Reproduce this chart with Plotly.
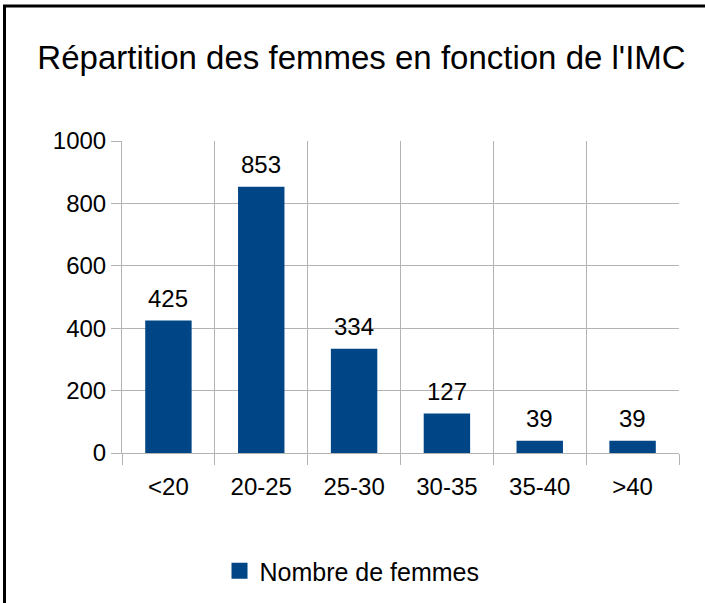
import plotly.graph_objects as go

categories = ["<20", "20-25", "25-30", "30-35", "35-40", ">40"]
values = [425, 853, 334, 127, 39, 39]
series_name = "Nombre de femmes"
title_text = "Répartition des femmes en fonction de l'IMC"
y_ticks = [0, 200, 400, 600, 800, 1000]

W, H = 705, 603
L, R, T, B = 122, 26, 141, 150
pw, ph = W - L - R, H - T - B

font = "Liberation Sans, Arial, sans-serif"
grid = "#b3b3b3"
bar_color = "#004586"

fig = go.Figure()
fig.add_trace(go.Bar(
    x=categories, y=values, name=series_name,
    marker=dict(color=bar_color, line=dict(width=0)),
    width=0.5, showlegend=False, hoverinfo="x+y",
))
# legend-only entry with a larger square swatch
fig.add_trace(go.Scatter(
    x=[None], y=[None], mode="markers", name=series_name,
    marker=dict(symbol="square", size=16, color=bar_color),
    showlegend=True, hoverinfo="skip",
))

# value labels above the bars
for c, v in zip(categories, values):
    fig.add_annotation(x=c, y=v, xref="x", yref="y", text=str(v), showarrow=False,
                       yanchor="middle", yshift=22,
                       font=dict(size=24, family=font, color="#000000"))


def px_to_paper_x(px):
    return (px - L) / pw


def px_to_paper_y(py):
    return (H - B - py) / ph


fig.update_layout(
    width=W, height=H,
    margin=dict(l=L, r=R, t=T, b=B, autoexpand=False),
    paper_bgcolor="white", plot_bgcolor="white",
    font=dict(family=font, color="#000000"),
    title=dict(text=title_text, x=361.5 / W, xanchor="center", y=1 - 57 / H, yanchor="middle",
               font=dict(size=33, family=font, color="#000000")),
    xaxis=dict(type="category", tickson="boundaries", showgrid=True, gridcolor=grid, gridwidth=1,
               ticks="outside", ticklen=11, tickcolor=grid, tickwidth=1,
               showline=True, linecolor=grid, linewidth=1, ticklabelstandoff=12,
               tickfont=dict(size=24, family=font, color="#000000"),
               range=[-0.5, 5.5]),
    yaxis=dict(range=[0, 1000], tickvals=y_ticks, showgrid=True, gridcolor=grid, gridwidth=1,
               ticks="outside", ticklen=10, tickcolor=grid, tickwidth=1,
               showline=True, linecolor=grid, linewidth=1, zeroline=False,
               tickfont=dict(size=24, family=font, color="#000000")),
    legend=dict(orientation="h", x=px_to_paper_x(352), xanchor="center", y=px_to_paper_y(571),
                yanchor="middle", itemsizing="trace",
                font=dict(size=25, family=font, color="#000000"), bgcolor="rgba(0,0,0,0)"),
    bargap=0.5,
    shapes=[dict(type="rect", xref="paper", yref="paper",
                 x0=px_to_paper_x(4.5), x1=px_to_paper_x(W + 20),
                 y0=px_to_paper_y(H + 20), y1=px_to_paper_y(6),
                 line=dict(color="#000000", width=3), fillcolor="rgba(0,0,0,0)", layer="below")],
)

fig.write_html(
    "out.html",
    config={"displayModeBar": False},
    post_script="document.body.style.margin='0';document.body.style.overflow='hidden';",
)
